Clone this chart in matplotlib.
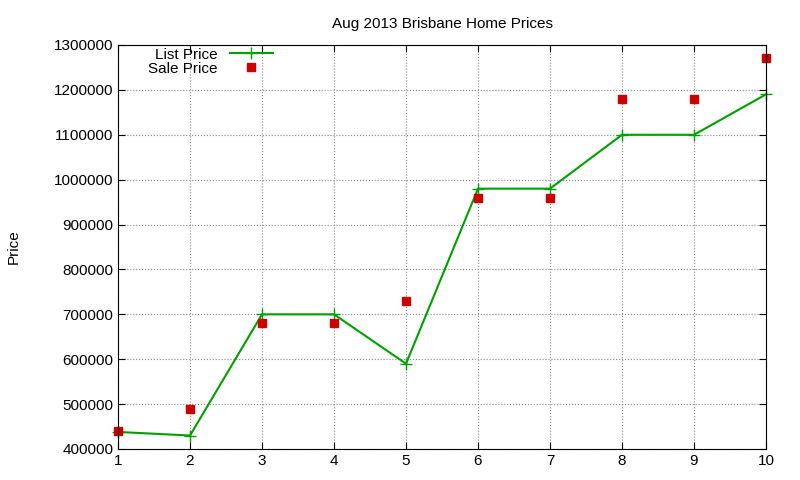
import matplotlib
matplotlib.use("Agg")
import matplotlib.pyplot as plt

x = [1, 2, 3, 4, 5, 6, 7, 8, 9, 10]
list_price = [438000, 430000, 700000, 700000, 590000, 980000, 980000, 1100000, 1100000, 1190000]
sale_price = [440000, 490000, 680000, 680000, 730000, 960000, 960000, 1180000, 1180000, 1270000]
yticks = list(range(400000, 1300001, 100000))

plt.rcParams['font.family'] = ['Liberation Sans', 'DejaVu Sans']
fig = plt.figure(figsize=(8, 4.8), dpi=100)
ax = fig.add_axes([118/800, 1-449/480, (766-118)/800, (449-45)/480])
ax.plot(x, list_price, color='#00a000', marker='+', markersize=8, lw=1.5, label='List Price', clip_on=False)
ax.plot(x, sale_price, ls='none', marker='s', color='#cc0000', markersize=6, label='Sale Price', clip_on=False)
ax.set_xlim(1, 10)
ax.set_ylim(400000, 1300000)
ax.set_xticks(x)
ax.set_yticks(yticks)
ax.set_yticklabels([str(v) for v in yticks])
ax.tick_params(direction='in', top=True, right=True, labelsize=11, length=5)
ax.grid(True, ls=':', color='#888888', lw=0.8)
ax.set_title('Aug 2013 Brisbane Home Prices', fontsize=11, pad=12)
ax.set_ylabel('Price', fontsize=11, labelpad=24)
leg = ax.legend(loc='upper left', bbox_to_anchor=(0.03, 1.02), frameon=False, markerfirst=False, fontsize=11, handlelength=2.8, borderpad=0.2, labelspacing=0.0)
for t in leg.get_texts():
    t.set_ha('right')
fig.savefig('out.png', dpi=100)
